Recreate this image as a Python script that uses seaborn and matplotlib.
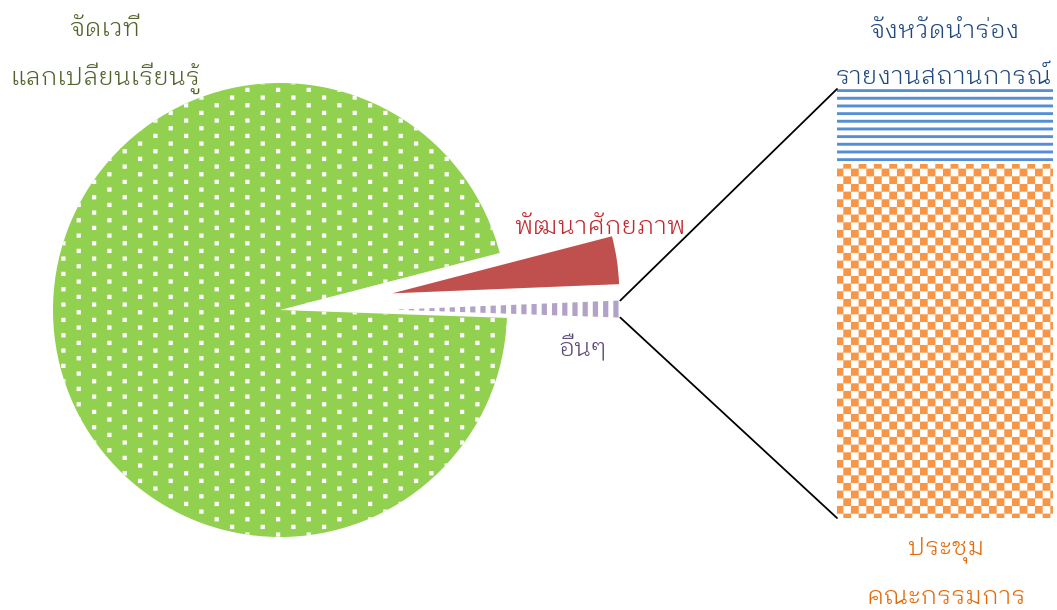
import warnings
import numpy as np
import matplotlib
matplotlib.use("Agg")
import matplotlib.pyplot as plt
import matplotlib.hatch as mhatch
from matplotlib import font_manager
from matplotlib.path import Path
from matplotlib.patches import ConnectionPatch
import seaborn as sns
from fontTools.ttLib import TTFont

warnings.filterwarnings("ignore")

# pie slices (percent), counter-clockwise from the right
pie_labels = ["อื่นๆ", "พัฒนาศักยภาพ", "จัดเวที\nแลกเปลี่ยนเรียนรู้"]
pie_values = [1.2, 3.4, 95.4]
pie_explode = [0.5, 0.5, 0.0]

# breakdown of "อื่นๆ" drawn as the stacked bar (bottom to top)
bar_labels = ["ประชุม\nคณะกรรมการ", "จังหวัดนำร่อง\nรายงานสถานการณ์"]
bar_values = [0.99, 0.21]

pie_faces = ["white", "#C0504D", "#92D050"]
pie_hatch = ["s", None, "d"]
pie_hatch_colors = ["#B3A2C7", "#C0504D", "white"]
pie_text_colors = ["#5F497A", "#C0282D", "#4F6228"]

bar_hatch = ["k", "h"]
bar_hatch_colors = ["#F79646", "#558ED5"]
bar_text_colors = ["#E36C09", "#1F497D"]

W, H, DPI = 1057, 610, 92


# office-like fill patterns as filled blocks inside one hatch tile
def pattern_rects(ch):
    rects = []
    if ch == "d":    # sparse dots
        for r in range(12):
            for c in range(3):
                rects.append(((c + 0.5 * (r % 2)) / 3, r / 12, 0.045, 0.045))
    elif ch == "k":  # checkerboard
        for i in range(12):
            for j in range(12):
                if (i + j) % 2 == 0:
                    rects.append((i / 12, j / 12, 1 / 12, 1 / 12))
    elif ch == "s":  # vertical stripes
        for i in range(9):
            rects.append((i / 9, 0, 0.5 / 9, 1))
    elif ch == "h":  # horizontal lines
        for j in range(12):
            rects.append((0, j / 12, 1, 0.03))
    return rects


class BlockHatch(mhatch.HatchPatternBase):
    def __init__(self, hatch, density):
        self.rects = [r for ch in "dksh" if ch in hatch for r in pattern_rects(ch)]
        self.num_vertices = 5 * len(self.rects)

    def set_vertices_and_codes(self, vertices, codes):
        for i, (x, y, w, h) in enumerate(self.rects):
            vertices[5 * i:5 * i + 5] = [(x, y), (x + w, y), (x + w, y + h), (x, y + h), (x, y)]
            codes[5 * i:5 * i + 5] = [Path.MOVETO, Path.LINETO, Path.LINETO, Path.LINETO, Path.CLOSEPOLY]


mhatch._hatch_types.append(BlockHatch)

LOOPED = ["looped", "loma", "waree", "garuda", "umpush", "tlwg", "norasi", "kinnari"]


def find_thai_font():
    found = []
    for f in font_manager.fontManager.ttflist:
        try:
            cmap = TTFont(f.fname, fontNumber=0, lazy=True).getBestCmap()
        except Exception:
            continue
        if cmap and 0x0E08 in cmap and 0x0E31 in cmap:
            name = f.name.lower()
            rank = next((i for i, k in enumerate(LOOPED) if k in name), len(LOOPED))
            w = f.weight if isinstance(f.weight, int) else 400
            found.append((rank, "serif" in name and "sans" not in name,
                          f.style != "normal", abs(w - 350), f.name, w))
    if not found:
        return None, 400
    best = sorted(found)[0]
    return best[4], best[5]


sns.set_theme(style="white")
thai, thai_weight = find_thai_font()
plt.rcParams["font.family"] = ([thai] if thai else []) + ["DejaVu Sans"]
plt.rcParams["hatch.linewidth"] = 0.1

fig = plt.figure(figsize=(W / DPI, H / DPI), dpi=DPI)

# pie
R, CX, CY = 227.0, 280.0, 310.0
ax_pie = fig.add_axes([0, 0, 700 / W, 1])
wedges, _ = ax_pie.pie(pie_values, explode=pie_explode, startangle=-2, counterclock=True,
                       radius=1, wedgeprops={"linewidth": 0})
for w, face, hc, hp in zip(wedges, pie_faces, pie_hatch_colors, pie_hatch):
    w.set_facecolor(face)
    w.set_edgecolor(hc)
    w.set_linewidth(0)
    if hp:
        w.set_hatch(hp)
ax_pie.set_aspect("equal")
ax_pie.set_xlim(-CX / R, (700 - CX) / R)
ax_pie.set_ylim(-(H - CY) / R, CY / R)
ax_pie.axis("off")

# stacked bar for the "other" slice
bx0, bx1, by0, by1 = 837, 1053, 89, 518
ax_bar = fig.add_axes([bx0 / W, (H - by1) / H, (bx1 - bx0) / W, (by1 - by0) / H])
bottoms = np.concatenate([[0], np.cumsum(bar_values)[:-1]])
bars = ax_bar.bar([0] * len(bar_values), bar_values, bottom=bottoms, width=1.0,
                  color="white", linewidth=0)
for b, hp, hc in zip(bars, bar_hatch, bar_hatch_colors):
    b.set_hatch(hp)
    b.set_edgecolor(hc)
    b.set_linewidth(0)
ax_bar.set_xlim(-0.5, 0.5)
ax_bar.set_ylim(0, sum(bar_values))
ax_bar.axis("off")

# connector lines from the exploded slice to the bar
other = wedges[0]
cx, cy = other.center
t1, t2 = np.radians(other.theta1), np.radians(other.theta2)
for (px, py), yb in [((cx + np.cos(t2), cy + np.sin(t2)), sum(bar_values)),
                     ((cx + np.cos(t1), cy + np.sin(t1)), 0)]:
    con = ConnectionPatch(xyA=(px, py), coordsA=ax_pie.transData,
                          xyB=(-0.5, yb), coordsB=ax_bar.transData,
                          color="black", lw=1.4)
    fig.add_artist(con)

# labels
fs = 19.8


def put_lines(text, x, ys, color):
    for line, y in zip(text.split("\n"), ys):
        fig.text(x / W, 1 - y / H, line, ha="center", va="center", fontsize=fs,
                 color=color, fontweight=thai_weight, zorder=1)


put_lines(pie_labels[2], 105, [30, 78], pie_text_colors[2])
put_lines(pie_labels[1], 600, [228], pie_text_colors[1])
put_lines(pie_labels[0], 583, [348], pie_text_colors[0])
put_lines(bar_labels[1], 944, [31, 77], bar_text_colors[1])
put_lines(bar_labels[0], 946, [550, 598], bar_text_colors[0])

fig.savefig("out.png", dpi=DPI)
